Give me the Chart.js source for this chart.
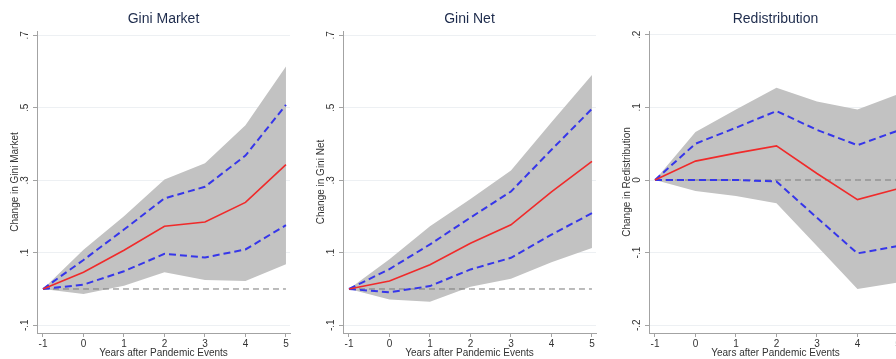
<!DOCTYPE html>
<html>
<head>
<meta charset="utf-8">
<script src="https://cdn.jsdelivr.net/npm/chart.js@4.4.1/dist/chart.umd.min.js"></script>
<style>
  html, body { margin: 0; padding: 0; background: #fff; overflow: hidden; }
  #wrap { position: relative; width: 896px; height: 359px; overflow: hidden; }
  canvas { position: absolute; top: 0; }
</style>
</head>
<body>
<div id="wrap">
  <canvas id="c1" width="306" height="359" style="left:0px"></canvas>
  <canvas id="c2" width="306" height="359" style="left:306px"></canvas>
  <canvas id="c3" width="306" height="359" style="left:612px"></canvas>
</div>
<script>
const years = [-1, 0, 1, 2, 3, 4, 5];
const xTicks = [-1, 0, 1, 2, 3, 4, 5];
const zeroLine = [0, 0, 0, 0, 0, 0, 0];

// Gini Market
const marketEst  = [0, 0.046, 0.107, 0.173, 0.185, 0.239, 0.343];
const marketHi90 = [0, 0.080, 0.164, 0.250, 0.282, 0.368, 0.508];
const marketLo90 = [0, 0.012, 0.049, 0.097, 0.087, 0.109, 0.176];
const marketHi95 = [0, 0.108, 0.201, 0.302, 0.347, 0.452, 0.614];
const marketLo95 = [0, -0.014, 0.009, 0.046, 0.025, 0.022, 0.068];

// Gini Net
const netEst  = [0, 0.022, 0.067, 0.126, 0.177, 0.268, 0.352];
const netHi90 = [0, 0.055, 0.123, 0.197, 0.269, 0.384, 0.497];
const netLo90 = [0, -0.009, 0.008, 0.054, 0.086, 0.150, 0.209];
const netHi95 = [0, 0.082, 0.173, 0.248, 0.327, 0.460, 0.590];
const netLo95 = [0, -0.029, -0.035, 0.006, 0.028, 0.074, 0.113];

// Redistribution
const redistEst  = [0, 0.026, 0.037, 0.047, 0.009, -0.027, -0.012];
const redistHi90 = [0, 0.050, 0.072, 0.095, 0.069, 0.048, 0.068];
const redistLo90 = [0, 0.000, 0.000, -0.002, -0.052, -0.101, -0.091];
const redistHi95 = [0, 0.066, 0.097, 0.127, 0.108, 0.097, 0.118];
const redistLo95 = [0, -0.015, -0.022, -0.032, -0.091, -0.150, -0.141];

const giniTicks = [-0.1, 0.1, 0.3, 0.5, 0.7];
const giniTickLabels = ['-.1', '.1', '.3', '.5', '.7'];
const redistTicks = [-0.2, -0.1, 0, 0.1, 0.2];
const redistTickLabels = ['-.2', '-.1', '0', '.1', '.2'];

Chart.defaults.font.family = '"Liberation Sans", Arial, sans-serif';
Chart.defaults.color = '#333';

const pts = (ys) => years.map((x, i) => ({x: x, y: ys[i]}));

function makeChart(id, title, yTitle, yMin, yMax, tickVals, tickLabels, est, hi90, lo90, hi95, lo95) {
    const ctx = document.getElementById(id).getContext('2d');
    const blue = '#3636ea';
    return new Chart(ctx, {
        type: 'line',
        data: {
            datasets: [
                { data: pts(hi95), fill: '+1', backgroundColor: '#c2c2c2', borderColor: 'rgba(0,0,0,0)', borderWidth: 0, pointRadius: 0, order: 10 },
                { data: pts(lo95), fill: false, borderColor: 'rgba(0,0,0,0)', borderWidth: 0, pointRadius: 0, order: 11 },
                { data: pts(zeroLine), borderColor: '#7a7a7a', borderWidth: 1, borderDash: [6, 4], pointRadius: 0, order: 5 },
                { data: pts(hi90), borderColor: blue, borderWidth: 2, borderDash: [7, 4], pointRadius: 0, order: 2 },
                { data: pts(lo90), borderColor: blue, borderWidth: 2, borderDash: [7, 4], pointRadius: 0, order: 3 },
                { data: pts(est), borderColor: '#f02a2a', borderWidth: 1.6, pointRadius: 0, order: 1 }
            ]
        },
        options: {
            responsive: false,
            animation: false,
            events: [],
            layout: { padding: { left: 0, right: 16, top: 0, bottom: 0 } },
            plugins: {
                legend: { display: false },
                tooltip: { enabled: false },
                title: {
                    display: true,
                    text: title,
                    color: '#1d2b4c',
                    fullSize: false,
                    font: { size: 14, weight: 'normal' },
                    padding: { top: 11, bottom: 3.2 }
                }
            },
            scales: {
                x: {
                    type: 'linear',
                    min: -1.148,
                    max: 5.1,
                    afterBuildTicks: s => { s.ticks = xTicks.map(v => ({value: v})); },
                    afterFit: s => { s.height = 26; },
                    ticks: {
                        font: { size: 10 },
                        color: '#333',
                        padding: 1,
                        maxRotation: 0,
                        autoSkip: false,
                        callback: v => String(v)
                    },
                    grid: { drawOnChartArea: false, drawTicks: true, tickLength: 4, tickColor: '#a3a3a3' },
                    border: { color: '#a3a3a3', width: 1 },
                    title: { display: true, text: 'Years after Pandemic Events', font: { size: 10 }, color: '#333', padding: 0 }
                },
                y: {
                    type: 'linear',
                    min: yMin,
                    max: yMax,
                    afterBuildTicks: s => { s.ticks = tickVals.map(v => ({value: v})); },
                    afterFit: s => { s.width = 37; },
                    ticks: {
                        font: { size: 10 },
                        color: '#333',
                        padding: 2,
                        minRotation: 90,
                        maxRotation: 90,
                        crossAlign: 'center',
                        autoSkip: false,
                        callback: (v, i) => tickLabels[i]
                    },
                    grid: { color: '#edf0f3', tickLength: 4, tickColor: '#a3a3a3' },
                    border: { color: '#a3a3a3', width: 1 },
                    title: { display: true, text: yTitle, font: { size: 10 }, color: '#333', padding: { top: 9, bottom: 0 } }
                }
            }
        }
    });
}

makeChart('c1', 'Gini Market', 'Change in Gini Market', -0.1214, 0.7117, giniTicks, giniTickLabels,
    marketEst, marketHi90, marketLo90, marketHi95, marketLo95);
makeChart('c2', 'Gini Net', 'Change in Gini Net', -0.1214, 0.7117, giniTicks, giniTickLabels,
    netEst, netHi90, netLo90, netHi95, netLo95);
makeChart('c3', 'Redistribution', 'Change in Redistribution', -0.2107, 0.2052, redistTicks, redistTickLabels,
    redistEst, redistHi90, redistLo90, redistHi95, redistLo95);
</script>
</body>
</html>
